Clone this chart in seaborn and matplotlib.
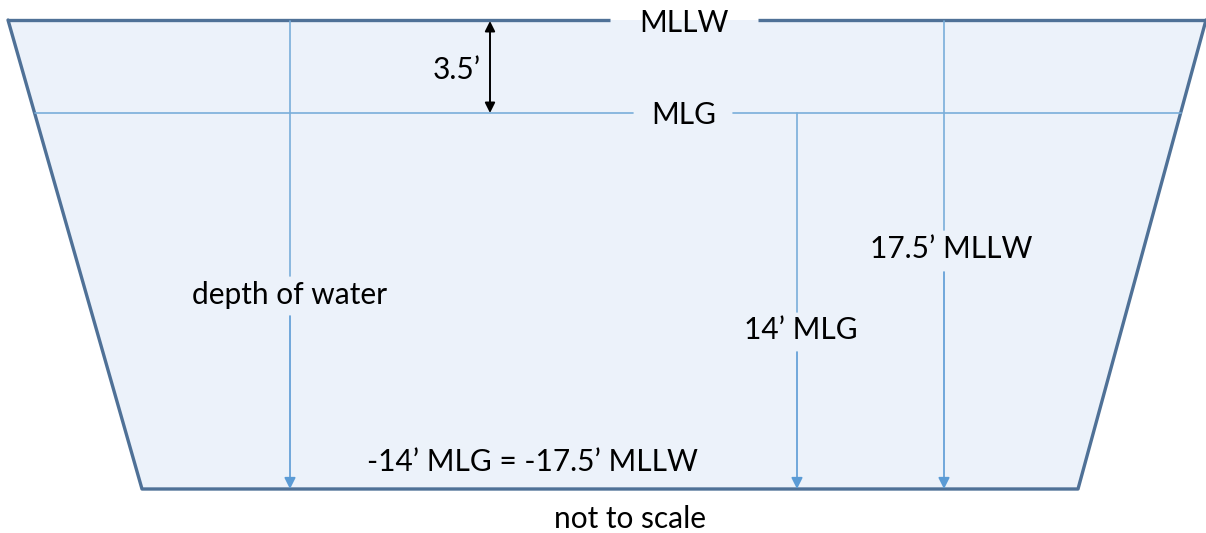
import matplotlib
matplotlib.use("Agg")
import matplotlib.pyplot as plt
import seaborn as sns
import pandas as pd

# ---- diagram content ----
level_names = ["MLLW", "MLG"]
offset_label = "3.5\u2019"
depth_labels = ["depth of water", "14\u2019 MLG", "17.5\u2019 MLLW"]
bottom_label = "-14\u2019 MLG = -17.5\u2019 MLLW"
note_label = "not to scale"

# channel outline (pixel space)
outline_x = [8, 142, 1078, 1206]
outline_y = [20, 489, 489, 20]
mllw_y = 20
mlg_y = 113
bottom_y = 489

sns.set_theme(style="white")
plt.rcParams['font.family'] = ['Lato', 'DejaVu Sans']

fig = plt.figure(figsize=(12.06, 5.33), dpi=100)
ax = fig.add_axes([0, 0, 1, 1])

edge = "#4F7197"
fill = "#ECF2FA"
light = "#79AEDA"
fs = 21.5

ax.fill(outline_x, outline_y, color=fill, zorder=0, lw=0)
df = pd.DataFrame({"x": outline_x, "y": outline_y})
sns.lineplot(data=df, x="x", y="y", sort=False, estimator=None, color=edge, lw=2.4, ax=ax)
# top line broken by label
ax.plot([8, 610], [mllw_y, mllw_y], color=edge, lw=2.4, solid_capstyle="butt")
ax.plot([758, 1206], [mllw_y, mllw_y], color=edge, lw=2.4, solid_capstyle="butt")
ax.set_xlim(0, 1206)
ax.set_ylim(533, 0)
ax.axis("off")

ax.text(684, 23, level_names[0], ha="center", va="center", fontsize=fs, color="black")

# MLG line
def xl(y):
    return 8 + (142 - 8) * (y - 20) / (489 - 20)
def xr(y):
    return 1206 - (1206 - 1078) * (y - 20) / (489 - 20)
ax.plot([xl(mlg_y), 633], [mlg_y, mlg_y], color=light, lw=1.2)
ax.plot([733, xr(mlg_y)], [mlg_y, mlg_y], color=light, lw=1.2)
ax.text(684, 115, level_names[1], ha="center", va="center", fontsize=fs, color="black")

# 3.5' double arrow
ax.annotate("", xy=(490, mlg_y), xytext=(490, mllw_y + 1),
            arrowprops=dict(arrowstyle="<|-|>", color="black", lw=1.4,
                            mutation_scale=15, shrinkA=0, shrinkB=0))
ax.text(457, 70, offset_label, ha="center", va="center", fontsize=fs, color="black")

def down_arrow(x, y0, gap0, gap1, label, lx, ly):
    ax.plot([x, x], [y0, gap0], color=light, lw=1.2)
    ax.annotate("", xy=(x, bottom_y), xytext=(x, gap1),
                arrowprops=dict(arrowstyle="-|>", color="#5B9BD5", lw=1.2,
                                mutation_scale=17, shrinkA=0, shrinkB=0))
    ax.text(lx, ly, label, ha="center", va="center", fontsize=fs, color="black")

down_arrow(290, mllw_y + 1, 276, 316, depth_labels[0], 290, 295)
down_arrow(797, mlg_y, 312, 352, depth_labels[1], 801, 330)
down_arrow(944, mllw_y + 1, 230, 272, depth_labels[2], 951, 249)

ax.text(532, 462, bottom_label, ha="center", va="center", fontsize=fs, color="black")
ax.text(630, 519, note_label, ha="center", va="center", fontsize=fs, color="black")

fig.savefig("out.png", dpi=100)
